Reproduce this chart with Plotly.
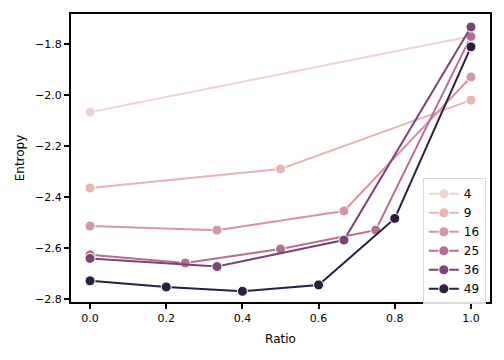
import plotly.graph_objects as go

series_names = ["4", "9", "16", "25", "36", "49"]
ratios = {
    "4": [0.0, 1.0],
    "9": [0.0, 0.5, 1.0],
    "16": [0.0, 1/3, 2/3, 1.0],
    "25": [0.0, 0.25, 0.5, 0.75, 1.0],
    "36": [0.0, 1/3, 2/3, 1.0],
    "49": [0.0, 0.2, 0.4, 0.6, 0.8, 1.0],
}
entropy = {
    "4": [-2.067, -1.769],
    "9": [-2.365, -2.29, -2.02],
    "16": [-2.514, -2.53, -2.455, -1.929],
    "25": [-2.627, -2.659, -2.604, -2.53, -1.77],
    "36": [-2.641, -2.673, -2.569, -1.733],
    "49": [-2.729, -2.753, -2.77, -2.745, -2.484, -1.811],
}
colors = ["#eed2cc", "#e5b6b2", "#d495a5", "#b56f92", "#7a4475", "#2d1e3e"]

fig = go.Figure()
for name, c in zip(series_names, colors):
    fig.add_trace(go.Scatter(
        x=ratios[name], y=entropy[name], name=name, mode="lines+markers",
        line=dict(color=c, width=2),
        marker=dict(color=c, size=10, line=dict(color="white", width=1)),
    ))

axis_common = dict(
    showline=True, linecolor="black", linewidth=2, mirror=True,
    ticks="outside", ticklen=5, tickwidth=2, tickcolor="black",
    showgrid=False, zeroline=False, automargin=False,
    tickfont=dict(family="DejaVu Sans", size=11, color="black"),
)
fig.update_xaxes(range=[-0.05, 1.05], tickvals=[0, 0.2, 0.4, 0.6, 0.8, 1.0],
                 ticktext=["0.0", "0.2", "0.4", "0.6", "0.8", "1.0"],
                 title=dict(text="Ratio", font=dict(family="DejaVu Sans", size=12, color="black"), standoff=10),
                 **axis_common)
fig.update_yaxes(range=[-2.812, -1.682], tickvals=[-2.8, -2.6, -2.4, -2.2, -2.0, -1.8],
                 ticktext=["\u22122.8", "\u22122.6", "\u22122.4", "\u22122.2", "\u22122.0", "\u22121.8"],
                 title=dict(text="Entropy", font=dict(family="DejaVu Sans", size=12, color="black"), standoff=8),
                 **axis_common)
fig.update_layout(
    width=504, height=360,
    margin=dict(l=63, r=22, t=6, b=66),
    plot_bgcolor="white", paper_bgcolor="white",
    font=dict(family="DejaVu Sans", size=11, color="black"),
    legend=dict(x=0.99, y=-0.008, xanchor="right", yanchor="bottom",
                bgcolor="rgba(255,255,255,0.85)", bordercolor="#d9d9d9", borderwidth=1,
                font=dict(size=12), itemwidth=30, tracegroupgap=0),
)
fig.write_html("out.html")
